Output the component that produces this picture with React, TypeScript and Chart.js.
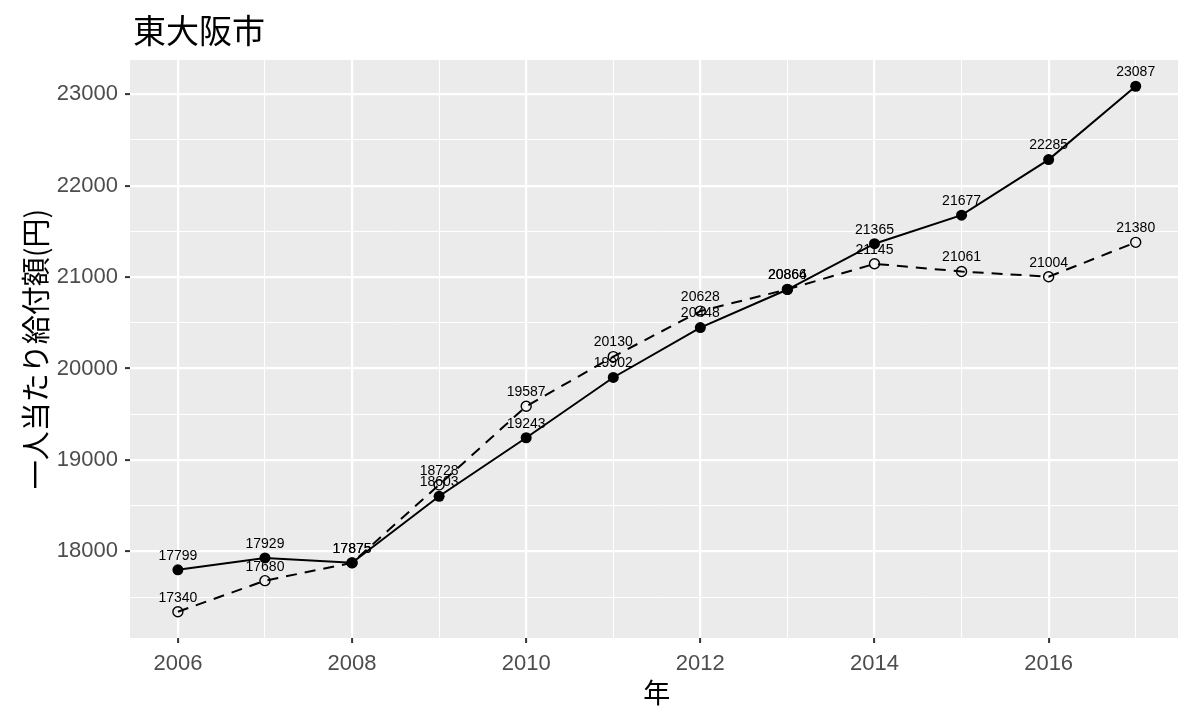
import React, { useEffect, useRef } from "react";
import { Chart, registerables } from "chart.js";

Chart.register(...registerables);

const titleText = "東大阪市";
const xTitle = "年";
const yTitle = "一人当たり給付額(円)";

const years = [2006, 2007, 2008, 2009, 2010, 2011, 2012, 2013, 2014, 2015, 2016, 2017];
const solidValues = [17799, 17929, 17875, 18603, 19243, 19902, 20448, 20864, 21365, 21677, 22285, 23087];
const dashedValues = [17340, 17680, 17875, 18728, 19587, 20130, 20628, 20866, 21145, 21061, 21004, 21380];

const xTickValues = [2006, 2007, 2008, 2009, 2010, 2011, 2012, 2013, 2014, 2015, 2016, 2017];
const xTickLabels = ["2006", "2008", "2010", "2012", "2014", "2016"];
const yTickValues = [17500, 18000, 18500, 19000, 19500, 20000, 20500, 21000, 21500, 22000, 22500, 23000];
const yTickLabels = ["18000", "19000", "20000", "21000", "22000", "23000"];

const SANS = "'Liberation Sans', Arial, sans-serif";
const CJK = "'Noto Sans CJK JP', 'Noto Sans CJK SC', sans-serif";

const CANVAS_W = 1190;

export default function App() {
  const ref = useRef<HTMLCanvasElement | null>(null);

  useEffect(() => {
    const canvas = ref.current;
    if (!canvas) return;

    const bgPlugin = {
      id: "panelBg",
      beforeDraw(chart: any) {
        const { ctx, chartArea } = chart;
        ctx.save();
        ctx.fillStyle = "#FFFFFF";
        ctx.fillRect(0, 0, chart.width, chart.height);
        ctx.fillStyle = "#EBEBEB";
        ctx.fillRect(chartArea.left, chartArea.top, chartArea.right - chartArea.left, chartArea.bottom - chartArea.top);
        ctx.restore();
      },
    };

    const textPlugin = {
      id: "texts",
      afterDatasetsDraw(chart: any) {
        const { ctx } = chart;
        ctx.save();
        ctx.fillStyle = "#000000";
        ctx.font = `14px ${SANS}`;
        ctx.textAlign = "center";
        ctx.textBaseline = "middle";
        chart.data.datasets.forEach((ds: any, i: number) => {
          const meta = chart.getDatasetMeta(i);
          meta.data.forEach((pt: any, j: number) => {
            ctx.fillText(String(ds.data[j].y), pt.x, pt.y - 14);
          });
        });
        ctx.restore();
      },
      afterDraw(chart: any) {
        const { ctx, chartArea } = chart;
        ctx.save();
        ctx.fillStyle = "#000000";
        ctx.font = `33px ${CJK}`;
        ctx.textAlign = "left";
        ctx.textBaseline = "middle";
        ctx.fillText(titleText, 133, 30);
        ctx.font = `27px ${CJK}`;
        ctx.textAlign = "center";
        ctx.fillText(xTitle, (chartArea.left + chartArea.right) / 2, 693);
        ctx.translate(36, (chartArea.top + chartArea.bottom) / 2);
        ctx.rotate(-Math.PI / 2);
        ctx.font = `29px ${CJK}`;
        ctx.fillText(yTitle, 0, 0);
        ctx.restore();
      },
    };

    const chart = new Chart(canvas, {
      type: "line",
      data: {
        datasets: [
          {
            label: "dashed",
            data: years.map((x, i) => ({ x, y: dashedValues[i] })),
            borderColor: "#000000",
            borderWidth: 2,
            borderDash: [11, 8],
            pointStyle: "circle",
            pointRadius: 5,
            pointBorderWidth: 1.4,
            pointBackgroundColor: "rgba(0,0,0,0)",
            pointBorderColor: "#000000",
            tension: 0,
          },
          {
            label: "solid",
            data: years.map((x, i) => ({ x, y: solidValues[i] })),
            borderColor: "#000000",
            borderWidth: 2,
            pointStyle: "circle",
            pointRadius: 5.5,
            pointBorderWidth: 0,
            pointBackgroundColor: "#000000",
            pointBorderColor: "#000000",
            tension: 0,
          },
        ],
      },
      options: {
        animation: false,
        responsive: false,
        maintainAspectRatio: false,
        events: [],
        layout: { padding: { top: 60, left: 0, right: 0, bottom: 0 } },
        plugins: {
          legend: { display: false },
          title: { display: false },
          tooltip: { enabled: false },
        },
        scales: {
          x: {
            type: "linear",
            min: 2005.45,
            max: 2017.55,
            afterFit: (s: any) => {
              s.height = 68;
            },
            afterBuildTicks: (s: any) => {
              s.ticks = xTickValues.map((v) => ({ value: v }));
            },
            border: { display: false },
            grid: {
              color: "#FFFFFF",
              lineWidth: (c: any) => (c.tick && xTickLabels.includes(String(c.tick.value)) ? 2.2 : 1),
              tickColor: (c: any) => (c.tick && xTickLabels.includes(String(c.tick.value)) ? "#333333" : "rgba(0,0,0,0)"),
              tickWidth: 2,
              tickLength: 5,
            },
            ticks: {
              autoSkip: false,
              maxRotation: 0,
              minRotation: 0,
              padding: 8,
              color: "#4D4D4D",
              font: { family: SANS, size: 22 },
              callback: (v: any) => {
                const s = String(v);
                return xTickLabels.includes(s) ? s : "";
              },
            },
          },
          y: {
            type: "linear",
            min: 17053,
            max: 23374,
            afterFit: (s: any) => {
              s.width = 130;
            },
            afterBuildTicks: (s: any) => {
              s.ticks = yTickValues.map((v) => ({ value: v }));
            },
            border: { display: false },
            grid: {
              color: "#FFFFFF",
              lineWidth: (c: any) => (c.tick && yTickLabels.includes(String(c.tick.value)) ? 2.2 : 1),
              tickColor: (c: any) => (c.tick && yTickLabels.includes(String(c.tick.value)) ? "#333333" : "rgba(0,0,0,0)"),
              tickWidth: 2,
              tickLength: 5,
            },
            ticks: {
              autoSkip: false,
              padding: 7,
              color: "#4D4D4D",
              font: { family: SANS, size: 22 },
              callback: (v: any) => {
                const s = String(v);
                return yTickLabels.includes(s) ? s : "";
              },
            },
          },
        },
      },
      plugins: [bgPlugin, textPlugin],
    });

    return () => {
      chart.destroy();
    };
  }, []);

  return (
    <div style={{ position: "absolute", left: 0, top: 0, width: 1178, height: 706, overflow: "hidden", background: "#fff" }}>
      <canvas ref={ref} width={CANVAS_W} height={706} style={{ display: "block", width: CANVAS_W, height: 706 }} />
    </div>
  );
}
